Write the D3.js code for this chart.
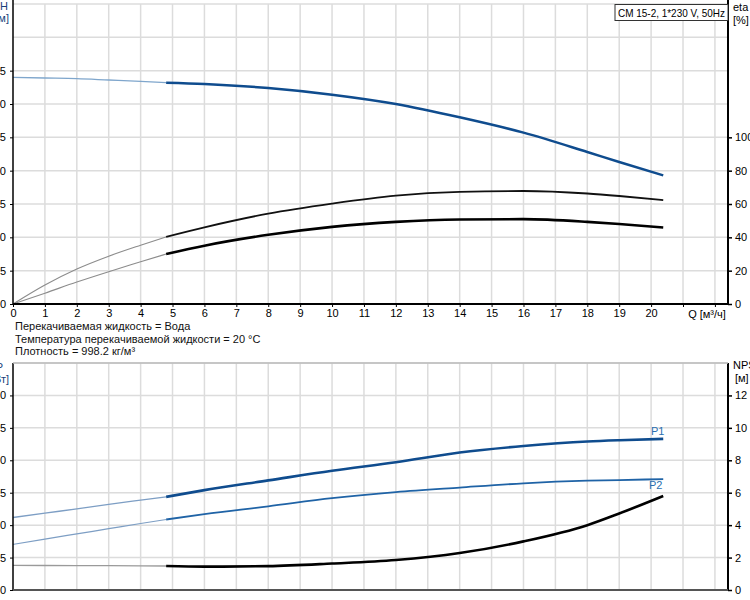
<!DOCTYPE html>
<html>
<head>
<meta charset="utf-8">
<script src="https://cdn.jsdelivr.net/npm/d3@7"></script>
<style>
  body { margin: 0; background: #fff; }
  svg { display: block; font-family: "Liberation Sans", Arial, sans-serif; }
</style>
</head>
<body>
<div id="chart"></div>
<script>
// flow points (m3/h)
const flowQ = [0, 1, 2, 3, 4, 4.8, 6, 8, 10, 12, 14, 16, 18, 19, 20.38];
const headH = [34.0, 33.9, 33.8, 33.6, 33.4, 33.2, 33.0, 32.4, 31.4, 30.0, 28.0, 25.7, 22.8, 21.3, 19.3];
const etaPump = [0, 11.4, 21, 28.7, 35.3, 40.3, 46, 54.2, 60.2, 65.0, 67.3, 67.8, 66.3, 64.8, 62.3];
const etaTotal = [0, 6.5, 13.2, 19.4, 25.3, 30.0, 35, 41.5, 46.3, 49.3, 50.7, 50.9, 49.3, 48.0, 45.9];
const powerP1 = [1.118, 1.185, 1.25, 1.32, 1.385, 1.436, 1.54, 1.69, 1.84, 1.97, 2.12, 2.22, 2.29, 2.31, 2.33];
const powerP2 = [0.703, 0.785, 0.865, 0.945, 1.025, 1.087, 1.17, 1.29, 1.415, 1.51, 1.58, 1.645, 1.685, 1.695, 1.71];
const npsh = [1.52, 1.51, 1.5, 1.5, 1.49, 1.48, 1.44, 1.47, 1.63, 1.85, 2.28, 3.0, 4.0, 4.72, 5.8];

const qTicks = d3.range(0, 21);
const hTicks = d3.range(0, 40, 5);
const etaTicks = [0, 20, 40, 60, 80, 100];
const pTicks = [0, 0.5, 1.0, 1.5, 2.0, 2.5, 3.0];
const npshTicks = [0, 2, 4, 6, 8, 10, 12];
const infoLines = [
  "Перекачиваемая жидкость = Вода",
  "Температура перекачиваемой жидкости = 20 °C",
  "Плотность = 998.2 кг/м³"
];
const title = "CM 15-2, 1*230 V, 50Hz";
const minFlowIndex = 5; // curves go thick from Q = 4.8

const W = 750, H = 600;
const svg = d3.select("#chart").append("svg").attr("width", W).attr("height", H);

const x = d3.scaleLinear().domain([0, 22.41]).range([13, 728]);
// top chart
const yH = d3.scaleLinear().domain([0, 45]).range([304, 4]);
const yEta = d3.scaleLinear().domain([0, 180]).range([304, 4]);
// bottom chart
const yP = d3.scaleLinear().domain([0, 3.5]).range([590, 363]);
const yN = d3.scaleLinear().domain([0, 14]).range([590, 363]);

const gridColor = "#dcdcdc";
const fs = 11;

function grid(yScale, yTop, yBottom, hLines) {
  const g = svg.append("g");
  g.selectAll("line.v").data(d3.range(1, 23)).enter().append("line")
    .attr("x1", d => x(d)).attr("x2", d => x(d))
    .attr("y1", yTop).attr("y2", yBottom)
    .attr("stroke", gridColor).attr("stroke-width", 1.5);
  g.selectAll("line.h").data(hLines).enter().append("line")
    .attr("x1", x(0)).attr("x2", x.range()[1])
    .attr("y1", d => yScale(d)).attr("y2", d => yScale(d))
    .attr("stroke", gridColor).attr("stroke-width", 1.5);
}

grid(yH, 4, 304, d3.range(5, 50, 5));
grid(yP, 363, 590, d3.range(0.5, 4, 0.5));

// curves, thin part up to min flow, thick after
function curve(yScale, vals, thin, thick) {
  const line = d3.line().x(d => x(d[0])).y(d => yScale(d[1])).curve(d3.curveMonotoneX);
  const pts = flowQ.map((q, i) => [q, vals[i]]);
  svg.append("path").attr("d", line(pts.slice(0, minFlowIndex + 1)))
    .attr("fill", "none").attr("stroke", thin.color).attr("stroke-width", thin.width);
  svg.append("path").attr("d", line(pts.slice(minFlowIndex)))
    .attr("fill", "none").attr("stroke", thick.color).attr("stroke-width", thick.width);
}

curve(yH, headH, {color: "#7fa6cc", width: 1.3}, {color: "#0f4c8e", width: 2.5});
curve(yEta, etaPump, {color: "#8c8c8c", width: 1.1}, {color: "#111", width: 1.8});
curve(yEta, etaTotal, {color: "#8c8c8c", width: 1.1}, {color: "#000", width: 2.6});
curve(yP, powerP1, {color: "#7d9ec4", width: 1.3}, {color: "#0f4c8e", width: 2.6});
curve(yP, powerP2, {color: "#7d9ec4", width: 1.2}, {color: "#1f63a6", width: 1.8});
curve(yN, npsh, {color: "#9a9a9a", width: 1.3}, {color: "#000", width: 2.6});

// axes
function axisLines(yTop, yBottom, bottomColor) {
  svg.append("line").attr("x1", 13).attr("x2", 13).attr("y1", yTop).attr("y2", yBottom)
    .attr("stroke", "#000").attr("stroke-width", 1.5);
  svg.append("line").attr("x1", 728).attr("x2", 728).attr("y1", yTop).attr("y2", yBottom)
    .attr("stroke", "#000").attr("stroke-width", 2);
  svg.append("line").attr("x1", 13).attr("x2", 728).attr("y1", yBottom).attr("y2", yBottom)
    .attr("stroke", bottomColor).attr("stroke-width", 2);
}
axisLines(0, 304, "#000");
axisLines(363, 590, "#555");
svg.append("line").attr("x1", 13).attr("x2", 728).attr("y1", 363).attr("y2", 363)
  .attr("stroke", "#bbb").attr("stroke-width", 1.5);

// left tick labels (the picture is cropped, so only the last digits show)
function leftAxis(scale, ticks, fmt) {
  const g = svg.append("g").attr("transform", "translate(13,0)");
  g.call(d3.axisLeft(scale).tickValues(ticks).tickSize(3).tickFormat(fmt));
  g.select(".domain").remove();
  g.selectAll("text").attr("font-size", fs).attr("fill", "#000").attr("x", -7)
    .attr("font-family", "Liberation Sans, Arial, sans-serif");
}
leftAxis(yH, hTicks, d3.format("d"));
leftAxis(yP, pTicks, d3.format(".1f"));

function rightAxis(scale, ticks) {
  const g = svg.append("g").attr("transform", "translate(728,0)");
  g.call(d3.axisRight(scale).tickValues(ticks).tickSize(4).tickFormat(d3.format("d")));
  g.select(".domain").remove();
  g.selectAll("line").attr("stroke-width", 1.5);
  g.selectAll("text").attr("font-size", fs).attr("fill", "#000").attr("x", 7)
    .attr("font-family", "Liberation Sans, Arial, sans-serif");
}
rightAxis(yEta, etaTicks);
rightAxis(yN, npshTicks);

// bottom Q axis of top chart
const xg = svg.append("g").attr("transform", "translate(0,304)");
xg.call(d3.axisBottom(x).tickValues(d3.range(0, 23)).tickSize(3)
  .tickFormat(d => qTicks.includes(d) ? d : ""));
xg.select(".domain").remove();
xg.selectAll("text").attr("font-size", fs).attr("fill", "#000").attr("y", 5)
  .attr("font-family", "Liberation Sans, Arial, sans-serif");
svg.append("text").attr("x", 707).attr("y", 318).attr("text-anchor", "middle")
  .attr("font-size", fs).text("Q [м³/ч]");

// axis titles
const t = (xp, yp, s, anchor, color) => svg.append("text").attr("x", xp).attr("y", yp)
  .attr("text-anchor", anchor).attr("font-size", fs).attr("fill", color).text(s);
t(8, 10, "H", "end", "#1a3f7a");
t(9, 22, "[м]", "end", "#1a3f7a");
t(733, 11, "eta", "start", "#000");
t(733, 24, "[%]", "start", "#000");
t(3, 371, "P", "end", "#1a3f7a");
t(9, 383, "[кВт]", "end", "#1a3f7a");
t(733, 369, "NPSH", "start", "#000");
t(735, 382, "[м]", "start", "#000");

// title box
svg.append("rect").attr("x", 615).attr("y", 4.5).attr("width", 113).attr("height", 16)
  .attr("fill", "#fff").attr("stroke", "#333").attr("stroke-width", 1);
t(618, 16.5, title, "start", "#000").attr("textLength", 107).attr("lengthAdjust", "spacingAndGlyphs");

// series labels
t(651, 435, "P1", "start", "#2a6fb0");
t(649, 489, "P2", "start", "#2a6fb0");

// fluid info
svg.selectAll("text.info").data(infoLines).enter().append("text")
  .attr("x", 15).attr("y", (d, i) => 330 + i * 12.7)
  .attr("font-size", fs).attr("fill", "#111").text(d => d);
</script>
</body>
</html>
